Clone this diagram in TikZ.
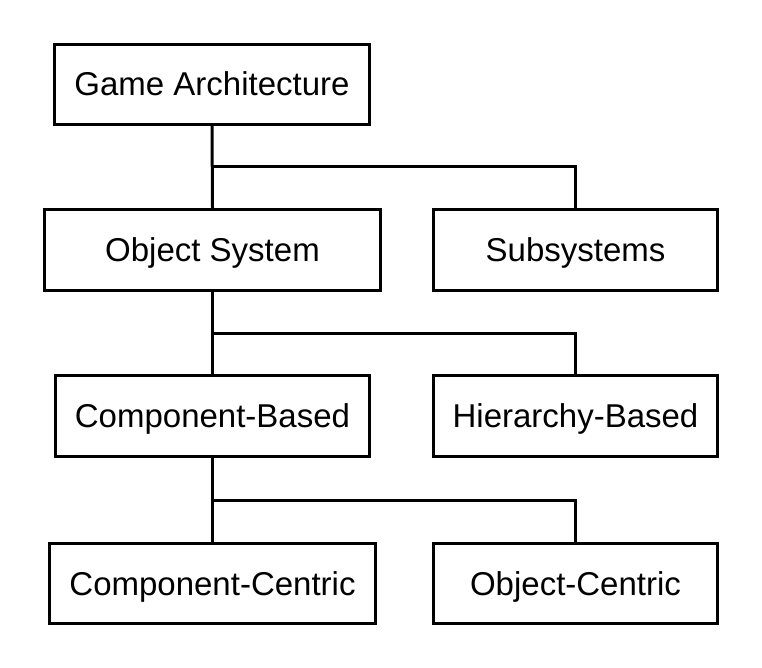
\documentclass[tikz,border=0pt]{standalone}
\usepackage{fontspec}
\setmainfont{Liberation Sans}
\begin{document}
\begin{tikzpicture}[x=1pt,y=-1pt,line width=3pt,every node/.style={font=\fontsize{33}{40}\selectfont},
    box/.style={draw,line width=3pt,inner sep=0pt,text height=23.6pt,text depth=0pt,minimum height=81pt}]
    \useasboundingbox (0,0) rectangle (762,667);
    \node[box,minimum width=315pt,minimum height=80pt] (game) at (212,84) {Game Architecture};
    \node[box,minimum width=336pt] (objsys) at (212.5,250) {Object System};
    \node[box,minimum width=284pt] (subsys) at (575.5,250) {Subsystems};
    \node[box,minimum width=314pt] (compbased) at (212.5,416) {Component-Based};
    \node[box,minimum width=284pt] (hierbased) at (575.5,416) {Hierarchy-Based};
    \node[box,minimum width=326pt,minimum height=80pt] (compcentric) at (212.5,583.5) {Component-Centric};
    \node[box,minimum width=284pt,minimum height=80pt] (objcentric) at (575.5,583.5) {Object-Centric};
    \path (game.south) -- (objsys.north) coordinate[pos=.5] (j1);
    \path (objsys.south) -- (compbased.north) coordinate[pos=.5] (j2);
    \path (compbased.south) -- (compcentric.north) coordinate[pos=.5] (j3);
    \draw (game.south) -- (objsys.north);
    \draw (j1) -| (subsys.north);
    \draw (objsys.south) -- (compbased.north);
    \draw (j2) -| (hierbased.north);
    \draw (compbased.south) -- (compcentric.north);
    \draw (j3) -| (objcentric.north);
\end{tikzpicture}
\end{document}
